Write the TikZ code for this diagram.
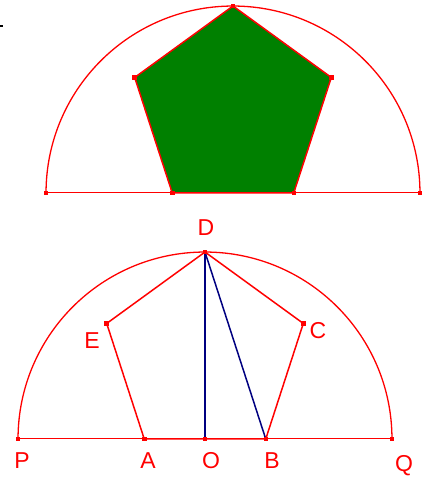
\documentclass[tikz,border=0pt]{standalone}
\usepackage{fontspec}
\setmainfont{Liberation Sans}
\definecolor{PtRed}{RGB}{255,0,0}
\definecolor{FillGreen}{RGB}{0,128,0}
\definecolor{Navy}{RGB}{0,0,128}
\tikzset{
  pt/.style={rectangle,fill=PtRed,inner sep=0pt,minimum size=4.5pt},
  lbl/.style={text=PtRed,font=\fontsize{23}{26}\selectfont,inner sep=0pt},
  arcline/.style={draw=PtRed,line width=1.3pt},
  base/.style={draw=PtRed,line width=1pt},
  side/.style={draw=PtRed,line width=1.5pt,line join=round},
  seg/.style={draw=Navy,line width=1.5pt}
}

\begin{document}
\begin{tikzpicture}[x=1pt,y=1pt]
  \useasboundingbox (0,0) rectangle (437,477);
  \fill[black] (0,450) rectangle (3,452);
  % upper figure
  \coordinate (tP) at (46.03,284);
  \coordinate (tQ) at (419.97,284);
  \coordinate (tA) at (172.25,284);
  \coordinate (tB) at (293.75,284);
  \coordinate (tC) at (331.3,399.55);
  \coordinate (tD) at (233,470.97);
  \coordinate (tE) at (134.7,399.55);
  \draw[base] (tP) -- (tQ);
  \draw[arcline] (tP) arc[start angle=180,end angle=0,radius=186.97];
  \draw[side,fill=FillGreen] (tA) -- (tB) -- (tC) -- (tD) -- (tE) -- cycle;
  \node[pt] (ptP) at (tP) {};
  \node[pt] (ptQ) at (tQ) {};
  \node[pt] (ptA) at (tA) {};
  \node[pt] (ptB) at (tB) {};
  \node[pt] (ptC) at (tC) {};
  \node[pt] (ptD) at (tD) {};
  \node[pt] (ptE) at (tE) {};
  % lower figure
  \coordinate (P) at (18.03,38);
  \coordinate (Q) at (391.97,38);
  \coordinate (A) at (144.25,38);
  \coordinate (O) at (205,38);
  \coordinate (B) at (265.75,38);
  \coordinate (C) at (303.3,153.55);
  \coordinate (D) at (205,224.97);
  \coordinate (E) at (106.7,153.55);
  \draw[base] (P) -- (Q);
  \draw[arcline] (P) arc[start angle=180,end angle=0,radius=186.97];
  \draw[side] (A) -- (B) -- (C) -- (D) -- (E) -- cycle;
  \draw[seg] (D) -- (O);
  \draw[seg] (D) -- (B);
  \node[pt] (bP) at (P) {};
  \node[pt] (bQ) at (Q) {};
  \node[pt] (bA) at (A) {};
  \node[pt] (bO) at (O) {};
  \node[pt] (bB) at (B) {};
  \node[pt] (bC) at (C) {};
  \node[pt] (bD) at (D) {};
  \node[pt] (bE) at (E) {};
  \node[lbl] (lD) at (206,249) {D};
  \node[lbl] (lE) at (92,136) {E};
  \node[lbl] (lC) at (318,146) {C};
  \node[lbl] (lP) at (22,16) {P};
  \node[lbl] (lA) at (148,16) {A};
  \node[lbl] (lO) at (211,16) {O};
  \node[lbl] (lB) at (272,16) {B};
  \node[lbl] (lQ) at (404,11) {Q};
\end{tikzpicture}
\end{document}
